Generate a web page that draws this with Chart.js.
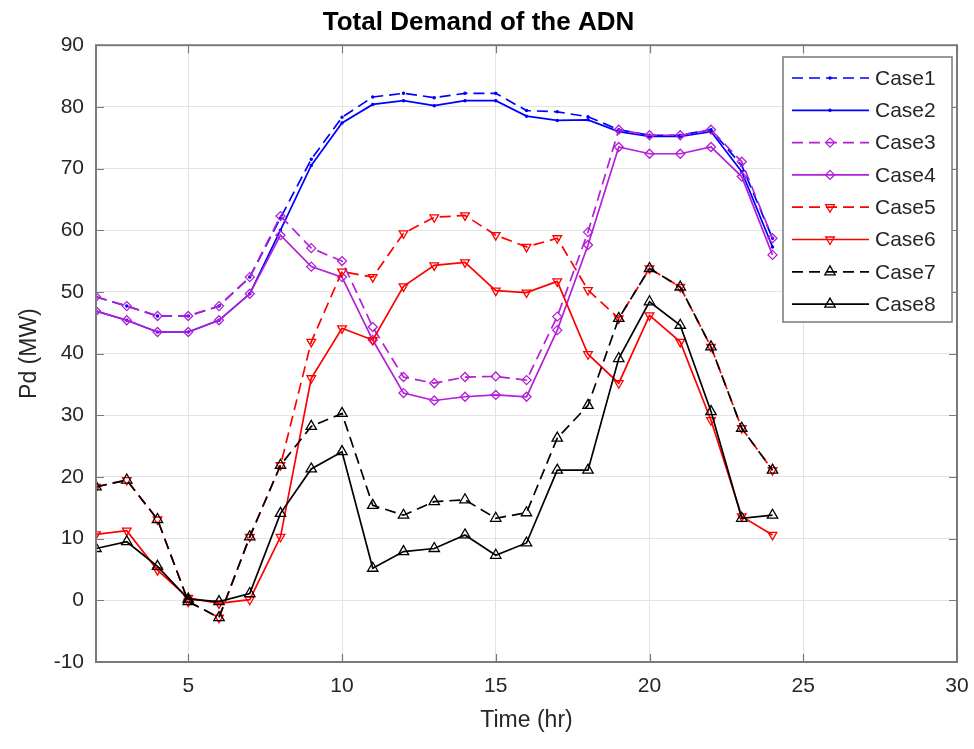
<!DOCTYPE html>
<html>
<head>
<meta charset="utf-8">
<title>Total Demand of the ADN</title>
<script src="https://cdn.jsdelivr.net/npm/chart.js@4.4.1/dist/chart.umd.min.js"></script>
<style>
    body { margin: 0; background: #ffffff; }
    #wrap { width: 974px; height: 749px; position: relative; }
</style>
</head>
<body>
<div id="wrap"><canvas id="demandChart"></canvas></div>
<script>
// Hours on the x axis
const hours = [2, 3, 4, 5, 6, 7, 8, 9, 10, 11, 12, 13, 14, 15, 16, 17, 18, 19, 20, 21, 22, 23, 24];

// Total demand Pd (MW) for each case
const case1 = [49.2, 47.7, 46.1, 46.1, 47.7, 52.4, 62.0, 71.5, 78.3, 81.6, 82.2, 81.5, 82.2, 82.2, 79.4, 79.2, 78.4, 76.3, 75.4, 75.4, 76.3, 70.5, 58.7];
const case2 = [46.9, 45.4, 43.5, 43.5, 45.4, 49.7, 60.0, 70.5, 77.4, 80.4, 81.0, 80.2, 81.0, 81.0, 78.5, 77.8, 77.9, 76.0, 75.2, 75.2, 76.0, 69.5, 57.3];
const case3 = [49.2, 47.7, 46.1, 46.1, 47.7, 52.4, 62.3, 57.1, 55.0, 44.3, 36.2, 35.2, 36.2, 36.3, 35.7, 46.0, 59.7, 76.3, 75.4, 75.4, 76.3, 71.1, 58.7];
const case4 = [46.9, 45.4, 43.5, 43.5, 45.4, 49.7, 59.2, 54.1, 52.4, 42.2, 33.6, 32.4, 33.0, 33.3, 33.0, 43.8, 57.6, 73.5, 72.4, 72.4, 73.5, 68.7, 56.0];
const case5 = [18.4, 19.5, 13.1, -0.2, -2.8, 10.3, 21.9, 41.9, 53.3, 52.4, 59.5, 62.1, 62.4, 59.2, 57.3, 58.7, 50.3, 45.7, 53.8, 50.8, 41.1, 27.9, 21.1];
const case6 = [10.7, 11.3, 4.9, 0.4, -0.5, 0.1, 10.3, 36.0, 44.1, 42.2, 50.9, 54.3, 54.8, 50.2, 49.9, 51.7, 39.9, 35.2, 46.2, 41.9, 29.2, 13.6, 10.6];
const case7 = [18.4, 19.5, 13.1, -0.2, -2.8, 10.3, 21.9, 28.2, 30.3, 15.4, 13.8, 16.0, 16.3, 13.3, 14.2, 26.3, 31.6, 45.7, 53.8, 50.8, 41.1, 27.9, 21.1];
const case8 = [8.4, 9.5, 5.5, 0.2, -0.2, 1.1, 14.1, 21.3, 24.1, 5.2, 7.9, 8.4, 10.6, 7.3, 9.3, 21.1, 21.1, 39.2, 48.4, 44.6, 30.6, 13.3, 13.8];

// Axis ticks
const xTicks = [5, 10, 15, 20, 25, 30];
const yTicks = [-10, 0, 10, 20, 30, 40, 50, 60, 70, 80, 90];

const caseNames = ['Case1', 'Case2', 'Case3', 'Case4', 'Case5', 'Case6', 'Case7', 'Case8'];
const caseValues = [case1, case2, case3, case4, case5, case6, case7, case8];

const FONT = "'Liberation Sans', Arial, Helvetica, sans-serif";
const BLUE = '#0000ff';
const PURPLE = '#b41fd8';
const RED = '#ff0000';
const BLACK = '#000000';
const DASH = [11, 6];

// Line look per case (colour, dashed, marker)
const caseStyles = [
    { color: BLUE, dashed: true, marker: 'circle', radius: 1.1, rotation: 0, filled: true },
    { color: BLUE, dashed: false, marker: 'circle', radius: 1.1, rotation: 0, filled: true },
    { color: PURPLE, dashed: true, marker: 'rectRot', radius: 4.5, rotation: 0, filled: false },
    { color: PURPLE, dashed: false, marker: 'rectRot', radius: 4.5, rotation: 0, filled: false },
    { color: RED, dashed: true, marker: 'triangle', radius: 5, rotation: 180, filled: false },
    { color: RED, dashed: false, marker: 'triangle', radius: 5, rotation: 180, filled: false },
    { color: BLACK, dashed: true, marker: 'triangle', radius: 6, rotation: 0, filled: false },
    { color: BLACK, dashed: false, marker: 'triangle', radius: 6, rotation: 0, filled: false }
];

// Build the datasets from the arrays above
function buildDatasets() {
    return caseNames.map((name, i) => {
        const s = caseStyles[i];
        return {
            label: name,
            data: hours.map((h, k) => ({ x: h, y: caseValues[i][k] })),
            borderColor: s.color,
            borderWidth: 1.7,
            borderDash: s.dashed ? DASH : [],
            pointStyle: s.marker,
            pointRadius: s.radius,
            pointRotation: s.rotation,
            pointBorderColor: s.color,
            pointBorderWidth: 1.3,
            pointBackgroundColor: s.filled ? s.color : 'rgba(0,0,0,0)',
            tension: 0,
            fill: false,
            order: caseNames.length - i
        };
    });
}

// Axes box with inward ticks, drawn over the lines like MATLAB
const boxPlugin = {
    id: 'boxPlugin',
    afterDatasetsDraw(chart) {
        const ctx = chart.ctx;
        const a = chart.chartArea;
        const xs = chart.scales.x;
        const ys = chart.scales.y;
        const tickLen = 8;
        ctx.save();
        ctx.strokeStyle = '#7a7a7a';
        ctx.lineWidth = 1.2;
        ctx.beginPath();
        xTicks.forEach(v => {
            const px = Math.round(xs.getPixelForValue(v)) + 0.5;
            ctx.moveTo(px, a.bottom); ctx.lineTo(px, a.bottom - tickLen);
            ctx.moveTo(px, a.top); ctx.lineTo(px, a.top + tickLen);
        });
        yTicks.forEach(v => {
            const py = Math.round(ys.getPixelForValue(v)) + 0.5;
            ctx.moveTo(a.left, py); ctx.lineTo(a.left + tickLen, py);
            ctx.moveTo(a.right, py); ctx.lineTo(a.right - tickLen, py);
        });
        ctx.stroke();
        ctx.lineWidth = 2;
        ctx.strokeRect(a.left, a.top, a.right - a.left, a.bottom - a.top);
        ctx.restore();
    }
};

// Legend box in the upper right of the plot
const legendPlugin = {
    id: 'legendPlugin',
    afterDraw(chart) {
        const ctx = chart.ctx;
        const left = 783, top = 57, width = 169, height = 265;
        const rowGap = 32.3;
        ctx.save();
        ctx.fillStyle = '#ffffff';
        ctx.fillRect(left, top, width, height);
        ctx.strokeStyle = '#7a7a7a';
        ctx.lineWidth = 1.5;
        ctx.strokeRect(left, top, width, height);
        chart.data.datasets.forEach((ds, i) => {
            const cy = top + 21 + i * rowGap;
            ctx.strokeStyle = ds.borderColor;
            ctx.lineWidth = ds.borderWidth;
            ctx.setLineDash(ds.borderDash);
            ctx.beginPath();
            ctx.moveTo(792, cy);
            ctx.lineTo(869, cy);
            ctx.stroke();
            ctx.setLineDash([]);
            ctx.lineWidth = ds.pointBorderWidth;
            ctx.fillStyle = ds.pointBackgroundColor;
            Chart.helpers.drawPoint(ctx, {
                pointStyle: ds.pointStyle,
                radius: ds.pointRadius,
                rotation: ds.pointRotation,
                borderWidth: ds.pointBorderWidth
            }, 830, cy);
            ctx.fillStyle = '#262626';
            ctx.font = '21px ' + FONT;
            ctx.textAlign = 'left';
            ctx.textBaseline = 'middle';
            ctx.fillText(ds.label, 875, cy + 1);
        });
        ctx.restore();
    }
};

// Create the chart
function createDemandChart() {
    const ctx = document.getElementById('demandChart').getContext('2d');
    new Chart(ctx, {
        type: 'line',
        data: { datasets: buildDatasets() },
        options: {
            responsive: true,
            maintainAspectRatio: false,
            animation: false,
            layout: { padding: { top: 0, left: 0, right: 17, bottom: 0 } },
            plugins: {
                legend: { display: false },
                tooltip: { enabled: false },
                title: {
                    display: true,
                    text: 'Total Demand of the ADN',
                    color: '#000000',
                    font: { family: FONT, size: 26, weight: 'bold' },
                    padding: { top: 7, bottom: 7 }
                }
            },
            scales: {
                x: {
                    type: 'linear',
                    min: 2,
                    max: 30,
                    afterBuildTicks: scale => { scale.ticks = xTicks.map(v => ({ value: v })); },
                    afterFit: scale => {
                        scale.height = 87;
                        scale.paddingLeft = 0;
                        scale.paddingRight = 0;
                    },
                    grid: { color: '#e3e3e3', lineWidth: 1, drawTicks: false },
                    border: { display: false },
                    ticks: { color: '#262626', padding: 12, maxRotation: 0, font: { family: FONT, size: 21 } },
                    title: {
                        display: true,
                        text: 'Time (hr)',
                        color: '#262626',
                        font: { family: FONT, size: 23 },
                        padding: { top: 0, bottom: 15 }
                    }
                },
                y: {
                    min: -10,
                    max: 90,
                    afterBuildTicks: scale => { scale.ticks = yTicks.map(v => ({ value: v })); },
                    afterFit: scale => { scale.width = 96; },
                    grid: { color: '#e3e3e3', lineWidth: 1, drawTicks: false },
                    border: { display: false },
                    ticks: { color: '#262626', padding: 12, font: { family: FONT, size: 21 } },
                    title: {
                        display: true,
                        text: 'Pd (MW)',
                        color: '#262626',
                        font: { family: FONT, size: 23 },
                        padding: { top: 16, bottom: 0 }
                    }
                }
            }
        },
        plugins: [boxPlugin, legendPlugin]
    });
}

document.addEventListener('DOMContentLoaded', createDemandChart);
</script>
</body>
</html>
